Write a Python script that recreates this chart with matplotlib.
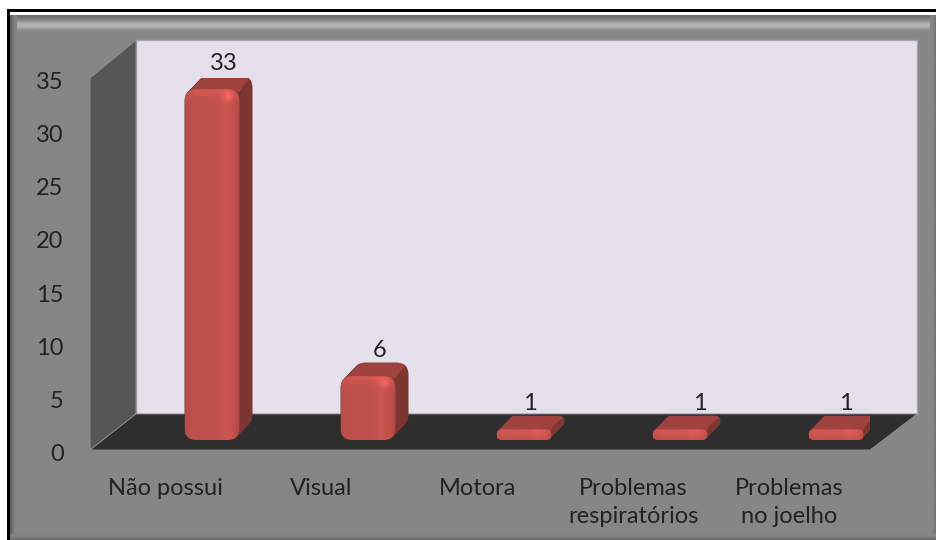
import matplotlib
matplotlib.use("Agg")
import matplotlib.pyplot as plt
import matplotlib.patches as mpatches
from matplotlib.transforms import ScaledTranslation
import numpy as np

categories = ["Não possui", "Visual", "Motora", "Problemas\nrespiratórios", "Problemas\nno joelho"]
values = [33, 6, 1, 1, 1]
yticks = [0, 5, 10, 15, 20, 25, 30, 35]

W, H = 937, 540
plt.rcParams["font.family"] = ["Lato", "DejaVu Sans"]
fig = plt.figure(figsize=(W / 100, H / 100), dpi=100, facecolor="white")

# background: frame and 3d walls, in pixel coordinates
bg = fig.add_axes([0, 0, 1, 1])
bg.axis("off")

bg.add_patch(mpatches.Rectangle((7, 9), W - 7, H - 9, fc="black", ec="none"))
bg.add_patch(mpatches.Rectangle((10, 12), W - 10, 3, fc="white", ec="none"))
bg.add_patch(mpatches.Rectangle((10, 15), W - 10, H - 15, fc="#868686", ec="none"))
# bevel on top, left, right and bottom
bands = np.array([[0.42], [0.47], [0.53], [0.60], [0.68], [0.71], [0.66], [0.58], [0.54], [0.525]])
bg.imshow(bands, cmap="gray", vmin=0, vmax=1, extent=(10, W, 34, 15), aspect="auto", zorder=1,
          interpolation="bilinear")
bg.imshow(np.array([[0.38, 0.47, 0.525]]), cmap="gray", vmin=0, vmax=1,
          extent=(10, 17, H, 15), aspect="auto", zorder=1, interpolation="bilinear")
bg.imshow(np.array([[0.525, 0.5, 0.45]]), cmap="gray", vmin=0, vmax=1,
          extent=(930, W, H, 15), aspect="auto", zorder=1, interpolation="bilinear")
bg.imshow(np.array([[0.525], [0.49], [0.43]]), cmap="gray", vmin=0, vmax=1,
          extent=(10, W, H, 534), aspect="auto", zorder=1, interpolation="bilinear")
bg.set_xlim(0, W)
bg.set_ylim(H, 0)

bg.add_patch(mpatches.Polygon([(136, 40), (917, 40), (917, 414), (136, 414)],
                              fc="#e6e0ec", ec="#a8a4b0", lw=1, zorder=2))
bg.add_patch(mpatches.Polygon([(90, 78), (136, 40), (136, 414), (90, 450)],
                              fc="#565656", ec="#8c8c8c", lw=0.8, zorder=3))
bg.add_patch(mpatches.Polygon([(90, 450), (136, 414), (917, 414), (870, 450)],
                              fc="#2e2e2e", ec="#8c8c8c", lw=0.6, zorder=3))

# chart axes: front plane of the 3d box
ax = fig.add_axes([90 / W, 1 - 450 / H, 780 / W, 372 / H])
ax.patch.set_alpha(0)
ax.set_xlim(-0.5, 4.5)
ax.set_ylim(0, 35)
for s in ax.spines.values():
    s.set_visible(False)
sx = 780 / 5
sy = 372 / 35

ax.set_yticks(yticks)
ax.set_xticks(range(len(categories)))
ax.set_xticklabels(categories, linespacing=1.45)
ax.tick_params(axis="both", length=0, colors="#222222", labelsize=17)
ax.tick_params(axis="y", pad=19)
ax.tick_params(axis="x", pad=20)
# labels sit a little off the tick positions in the original
for lab in ax.get_yticklabels():
    lab.set_transform(lab.get_transform() + ScaledTranslation(0, -2.5 / 100, fig.dpi_scale_trans))
for lab in ax.get_xticklabels():
    lab.set_transform(lab.get_transform() + ScaledTranslation(-2.5 / 100, 0, fig.dpi_scale_trans))

base = 10 / sy       # bars stand inside the floor
shift = 44 / sx      # from front plane towards the depth of the floor
bw = 55 / sx
dx = 13 / sx
dy = 13.5 / sy
aspect = sx / sy
label_dx = [6, 6, 0, 14, 4]


def rounded(x0, y0, w, h, r, **kw):
    return mpatches.FancyBboxPatch((x0, y0), w, h,
                                   boxstyle=mpatches.BoxStyle("Round", pad=0, rounding_size=r),
                                   mutation_aspect=aspect, **kw)


def front_image(h_px):
    # horizontal shading with a soft highlight near the top right
    u = np.linspace(0, 1, 56)
    v = np.linspace(0, 1, max(int(h_px), 8))
    uu, vv = np.meshgrid(u, v)
    light = -0.03 * np.exp(-uu / 0.06) - 0.10 * np.exp(-(1 - uu) / 0.05)
    light += 0.07 * np.exp(-((uu - 0.74) / 0.14) ** 2)
    light += 0.10 * np.exp(-(vv * h_px / 8.0) ** 2)
    if h_px > 30:
        light += 0.20 * np.exp(-((uu - 0.80) / 0.08) ** 2 - ((vv * h_px - 7) / 4.5) ** 2)
    rgb = np.array([0.745, 0.31, 0.295])
    return np.clip(rgb[None, None, :] * (1 + light[..., None]), 0, 1)


for i, val in enumerate(values):
    x0 = i + shift - bw / 2
    h = val
    r_px = min(12, val * sy / 2)
    r = r_px / sx
    # extruded body, from the back to the front
    for t in np.linspace(1, 0, 14):
        ax.add_patch(rounded(x0 + dx * t, base + dy * t, bw, h, r, fc="#7e3632", ec="none", zorder=4))
    # top face
    top = base + h
    ry = r_px / sy
    ax.add_patch(mpatches.Polygon([(x0 + r * 0.3, top - ry * 0.3), (x0 + dx + r * 0.5, top + dy - ry * 0.1),
                                   (x0 + dx + r * 0.8, top + dy), (x0 + dx + bw - r * 0.8, top + dy),
                                   (x0 + dx + bw - r * 0.3, top + dy - ry * 0.3),
                                   (x0 + bw + r * 0.3, top + dy * 0.25), (x0 + bw, top - ry * 0.2)],
                                  fc="#a0433f", ec="none", zorder=5))
    # front face with shading
    clip = rounded(x0, base, bw, h, r, fc="none", ec="none", zorder=6)
    ax.add_patch(clip)
    im = ax.imshow(front_image(h * sy), extent=(x0, x0 + bw, base, base + h), aspect="auto",
                   origin="upper", zorder=6, interpolation="bilinear")
    im.set_clip_path(clip)
    ax.text(x0 + bw / 2 + (label_dx[i] + 6) / sx, top + dy + 1.5 / sy, str(val), ha="center", va="bottom",
            fontsize=17, color="#222222", zorder=7)

ax.set_xlim(-0.5, 4.5)
ax.set_ylim(0, 35)

fig.savefig("out.png", dpi=100)
